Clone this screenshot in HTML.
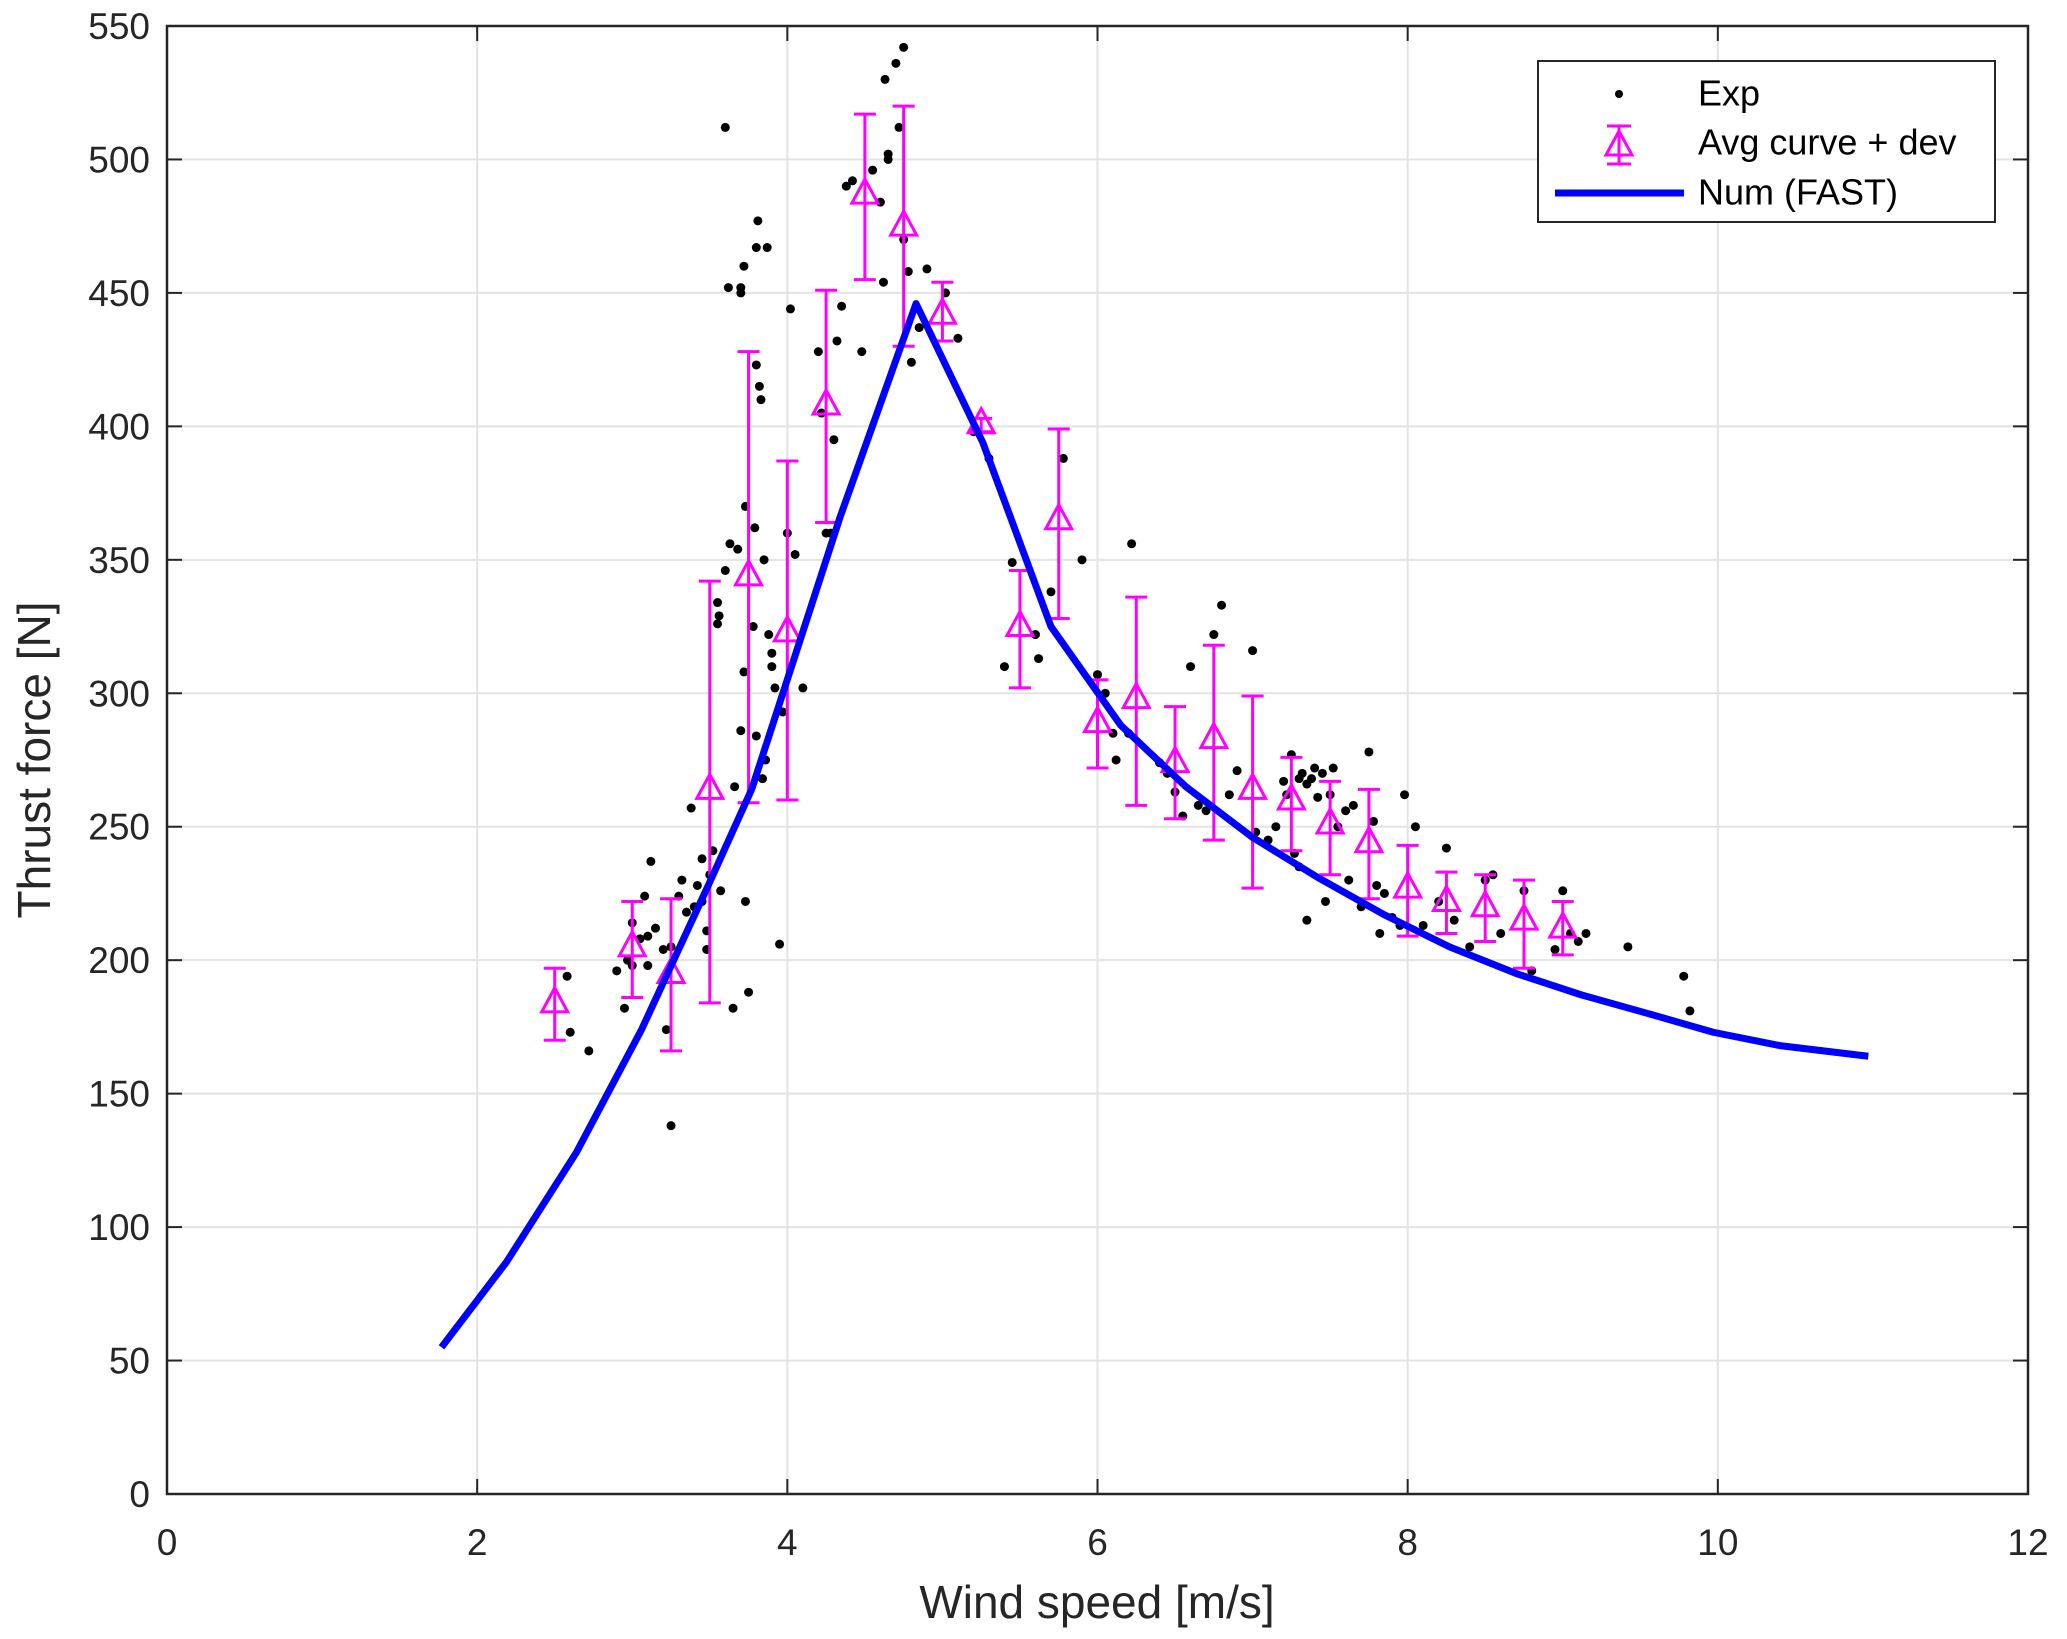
<!DOCTYPE html>
<html><head><meta charset="utf-8"><style>
html,body{margin:0;padding:0;background:#fff;}
svg{display:block;font-family:"Liberation Sans",Arial,sans-serif;}
</style></head><body>
<svg id="chart" width="2067" height="1639" viewBox="0 0 2067 1639" xmlns="http://www.w3.org/2000/svg">
<g id="grid"></g>
<g id="axes"></g>
<g id="marks"></g>
<text x="1097" y="1618" font-size="46" fill="#262626" text-anchor="middle">Wind speed [m/s]</text>
<text transform="translate(50,760) rotate(-90)" font-size="46" fill="#262626" text-anchor="middle">Thrust force [N]</text>
<g>
<rect x="1538" y="61" width="457" height="161" fill="#fff" stroke="#262626" stroke-width="2"/>
<circle cx="1619" cy="94" r="4" fill="#000"/>
<text x="1698" y="96" font-size="36" fill="#000" dominant-baseline="middle">Exp</text>
<g stroke="#ff00ff" stroke-width="3" fill="none">
<line x1="1619" y1="126" x2="1619" y2="164"/><line x1="1607" y1="126" x2="1631" y2="126"/><line x1="1607" y1="164" x2="1631" y2="164"/>
<polygon points="1619,131 1606,155 1632,155"/></g>
<text x="1698" y="145" font-size="36" fill="#000" dominant-baseline="middle">Avg curve + dev</text>
<line x1="1555" y1="193" x2="1684" y2="193" stroke="#0000ff" stroke-width="7"/>
<text x="1698" y="195" font-size="36" fill="#000" dominant-baseline="middle">Num (FAST)</text>
</g>
</svg>
<script>
const xTicks=[0,2,4,6,8,10,12];
const yTicks=[0,50,100,150,200,250,300,350,400,450,500,550];
const numX=[1.77,2.19,2.64,3.06,3.49,3.77,4.34,4.83,5.26,5.70,6.15,6.57,7.0,7.42,7.85,8.27,8.70,9.12,9.55,9.97,10.4,10.97];
const numY=[55,87,128,174,228,264,366,446,394,325,288,265,246,231,217,205,195,187,180,173,168,164];
const avgX=[2.5,3.0,3.25,3.5,3.75,4.0,4.25,4.5,4.75,5.0,5.25,5.5,5.75,6.0,6.25,6.5,6.75,7.0,7.25,7.5,7.75,8.0,8.25,8.5,8.75,9.0];
const avgY=[184,205,195,264,344,323,408,487,475,442,401,325,365,289,298,274,283,264,260,251,244,227,222,220,215,212];
const avgLo=[170,186,166,184,259,260,364,455,430,432,398,302,328,272,258,253,245,227,241,232,223,209,210,207,197,202];
const avgHi=[197,222,223,342,428,387,451,517,520,454,403,346,399,305,336,295,318,299,276,267,264,243,233,232,230,222];
const expX=[2.58,2.6,2.72,2.9,2.95,2.97,3.0,3.0,3.05,3.08,3.1,3.1,3.12,3.15,3.2,3.22,3.25,3.25,3.3,3.32,3.35,3.38,3.4,3.42,3.45,3.45,3.48,3.48,3.5,3.52,3.55,3.55,3.56,3.57,3.6,3.6,3.62,3.63,3.65,3.66,3.68,3.7,3.7,3.7,3.72,3.72,3.73,3.73,3.75,3.78,3.79,3.8,3.8,3.8,3.81,3.82,3.83,3.84,3.85,3.86,3.87,3.88,3.9,3.9,3.92,3.95,3.97,4.0,4.02,4.05,4.1,4.2,4.22,4.25,4.28,4.3,4.32,4.35,4.38,4.42,4.48,4.55,4.6,4.62,4.63,4.65,4.65,4.7,4.72,4.75,4.75,4.78,4.8,4.85,4.9,5.02,5.1,5.2,5.3,5.4,5.45,5.6,5.62,5.7,5.78,5.9,6.0,6.05,6.1,6.12,6.2,6.22,6.4,6.45,6.5,6.55,6.6,6.65,6.7,6.75,6.8,6.85,6.9,7.0,7.02,7.1,7.15,7.2,7.22,7.25,7.27,7.3,7.3,7.32,7.35,7.35,7.38,7.4,7.42,7.45,7.47,7.5,7.52,7.55,7.6,7.62,7.65,7.7,7.75,7.78,7.8,7.82,7.85,7.9,7.95,7.98,8.05,8.1,8.2,8.25,8.3,8.4,8.5,8.55,8.6,8.75,8.8,8.95,9.0,9.05,9.1,9.15,9.42,9.78,9.82];
const expY=[194,173,166,196,182,200,214,198,208,224,209,198,237,212,204,174,138,205,224,230,218,257,220,228,238,222,211,204,232,241,334,326,329,226,512,346,452,356,182,265,354,452,450,286,308,460,370,222,188,325,362,423,284,467,477,415,410,268,350,275,467,322,315,310,302,206,293,360,444,352,302,428,405,360,360,395,432,445,490,492,428,496,484,454,530,502,500,536,512,542,470,458,424,437,459,450,433,398,388,310,349,322,313,338,388,350,307,300,285,275,285,356,274,270,263,254,310,258,256,322,333,262,271,316,248,245,250,267,262,277,240,268,235,270,266,215,268,272,261,270,222,262,272,250,256,230,258,220,278,252,228,210,225,216,213,262,250,213,222,242,215,205,230,232,210,226,196,204,226,210,207,210,205,194,181];

const L=167,R=2028,T=26,B=1494;
const sx=v=>L+(v-0)/(12-0)*(R-L);
const sy=v=>B-(v-0)/(550-0)*(B-T);
const NS='http://www.w3.org/2000/svg';
function mk(parent,tag,attrs){const e=document.createElementNS(NS,tag);for(const k in attrs)e.setAttribute(k,attrs[k]);parent.appendChild(e);return e;}
const grid=document.getElementById('grid'),axes=document.getElementById('axes'),marks=document.getElementById('marks');
mk(grid,'rect',{x:L,y:T,width:R-L,height:B-T,fill:'#fff'});
xTicks.forEach(t=>{
  const x=sx(t);
  const g=mk(grid,'line',{x1:x,y1:T,x2:x,y2:B,stroke:'#e3e3e3','stroke-width':2});
  
  
  mk(axes,'line',{x1:x,y1:B,x2:x,y2:B-15,stroke:'#262626','stroke-width':2});
  mk(axes,'line',{x1:x,y1:T,x2:x,y2:T+15,stroke:'#262626','stroke-width':2});
  const lb=mk(axes,'text',{x:x,y:1555,'font-size':37,fill:'#262626','text-anchor':'middle'});
  lb.textContent=t;
  
  
});
yTicks.forEach(t=>{
  const y=sy(t);
  const g=mk(grid,'line',{x1:L,y1:y,x2:R,y2:y,stroke:'#e3e3e3','stroke-width':2});
  
  
  mk(axes,'line',{x1:L,y1:y,x2:L+15,y2:y,stroke:'#262626','stroke-width':2});
  mk(axes,'line',{x1:R,y1:y,x2:R-15,y2:y,stroke:'#262626','stroke-width':2});
  const lb=mk(axes,'text',{x:150,y:y+13,'font-size':37,fill:'#262626','text-anchor':'end'});
  lb.textContent=t;
  
  
});
mk(axes,'rect',{x:L,y:T,width:R-L,height:B-T,fill:'none',stroke:'#262626','stroke-width':2.5});
expX.forEach((v,i)=>{
  const c=mk(marks,'circle',{cx:sx(v),cy:sy(expY[i]),r:4.5,fill:'#000'});
  
  
});
avgX.forEach((v,i)=>{
  const x=sx(v),g=mk(marks,'g',{stroke:'#ff00ff','stroke-width':3,fill:'none'});
  
  
  mk(g,'line',{x1:x,y1:sy(avgLo[i]),x2:x,y2:sy(avgHi[i])});
  mk(g,'line',{x1:x-11,y1:sy(avgLo[i]),x2:x+11,y2:sy(avgLo[i])});
  mk(g,'line',{x1:x-11,y1:sy(avgHi[i]),x2:x+11,y2:sy(avgHi[i])});
  const y=sy(avgY[i]);
  mk(g,'polygon',{points:`${x},${y-15} ${x-13},${y+9} ${x+13},${y+9}`});
});
const pl=mk(marks,'polyline',{points:numX.map((v,i)=>sx(v)+','+sy(numY[i])).join(' '),fill:'none',stroke:'#0000ff','stroke-width':7,'stroke-linejoin':'round'});


</script>
</body></html>
